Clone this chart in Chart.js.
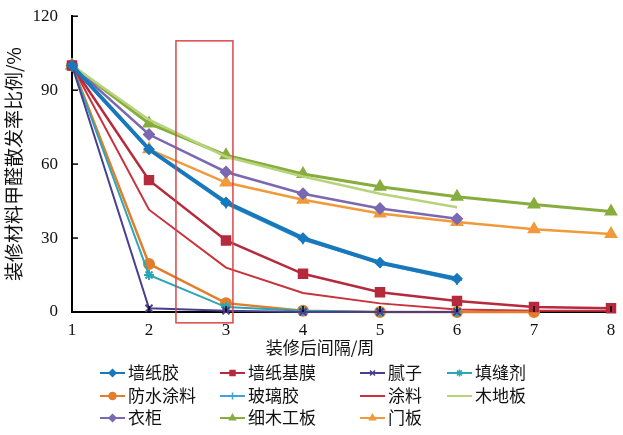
<!DOCTYPE html>
<html>
<head>
<meta charset="utf-8">
<script src="https://cdn.jsdelivr.net/npm/chart.js@4.4.1/dist/chart.umd.min.js"></script>
<style>
  html, body { margin: 0; padding: 0; background: #fff; }
</style>
</head>
<body>
<canvas id="chart" width="623" height="435"></canvas>
<script>
// weeks after decoration
const weeks = [1, 2, 3, 4, 5, 6, 7, 8];
const yTicks = [0, 30, 60, 90, 120];

const seriesNames = ['墙纸胶', '墙纸基膜', '腻子', '填缝剂', '防水涂料', '玻璃胶', '涂料', '木地板', '衣柜', '细木工板', '门板'];

// formaldehyde emission ratio, %
const wallpaperGlue = [100, 66, 44.5, 30, 20, 13.5];
const wallpaperPrimer = [100, 53.5, 29, 15.5, 8, 4.5, 2, 1.5];
const putty = [100, 1.5, 0.5, 0, 0, 0];
const caulk = [100, 15, 2, 0.5, 0, 0];
const waterproofCoating = [100, 19.5, 3.6, 0.5, 0, 0, 0];
const glassGlue = [100, 66, 44, 29.5, 20, 13];
const paint = [100, 41.5, 18, 7.7, 3.5, 1, 0.5, 0.5];
const woodFloor = [100, 78, 63, 55, 48, 42.5];
const wardrobe = [100, 72, 56.8, 48, 42, 37.8];
const blockboard = [100, 76.5, 63.6, 56, 50.8, 46.8, 43.6, 40.8];
const doorPanel = [100, 66, 52.5, 45.5, 40, 36.5, 33.6, 31.6];

// highlighted range (red box)
const boxX = [2.35, 3.09];
const boxY = [-4.4, 110];

const allSeries = [wallpaperGlue, wallpaperPrimer, putty, caulk, waterproofCoating, glassGlue, paint, woodFloor, wardrobe, blockboard, doorPanel];
const colors = ['#1878bb', '#b52a3c', '#4a3f8e', '#2aa6b6', '#e27d2c', '#3fa2dc', '#c8323c', '#b7d47c', '#7a68b2', '#87ad3e', '#f19a3c'];
const pointStyles = ['rectRot', 'rect', 'crossRot', 'star', 'circle', 'cross', 'circle', 'circle', 'rectRot', 'triangle', 'triangle'];
const pointSizes = [4.5, 6, 5, 5, 5, 5, 0, 0, 5, 6, 6];
const lineWidths = [4, 2.5, 2, 2, 2.5, 3, 2, 2.5, 2.5, 3, 2.5];

const cjk = '"Noto Sans CJK SC", "Noto Sans", sans-serif';
const serif = '"Liberation Serif", "DejaVu Serif", serif';

const datasets = seriesNames.map((name, i) => ({
  label: name,
  data: allSeries[i].map((v, j) => ({ x: weeks[j], y: v })),
  borderColor: colors[i],
  backgroundColor: colors[i],
  borderWidth: lineWidths[i],
  pointStyle: pointStyles[i],
  pointRadius: pointSizes[i],
  pointBorderWidth: 2,
  pointBorderColor: colors[i],
  pointBackgroundColor: colors[i],
  tension: 0,
  clip: false
}));

// red box + inward ticks + legend + x title
const extras = {
  id: 'extras',
  afterDatasetsDraw(chart) {
    const ctx = chart.ctx;
    const xs = chart.scales.x, ys = chart.scales.y;
    ctx.save();
    ctx.strokeStyle = '#d9474a';
    ctx.lineWidth = 1.5;
    const x0 = xs.getPixelForValue(boxX[0]), x1 = xs.getPixelForValue(boxX[1]);
    const y0 = ys.getPixelForValue(boxY[1]), y1 = ys.getPixelForValue(boxY[0]);
    ctx.strokeRect(x0, y0, x1 - x0, y1 - y0);

    ctx.strokeStyle = '#000';
    ctx.lineWidth = 1.5;
    const left = chart.chartArea.left, bottom = chart.chartArea.bottom;
    yTicks.forEach(t => {
      const y = ys.getPixelForValue(t);
      ctx.beginPath(); ctx.moveTo(left, y); ctx.lineTo(left + 6, y); ctx.stroke();
    });
    weeks.forEach(w => {
      const x = xs.getPixelForValue(w);
      ctx.beginPath(); ctx.moveTo(x, bottom); ctx.lineTo(x, bottom - 6); ctx.stroke();
    });
    ctx.restore();
  },
  afterDraw(chart) {
    const ctx = chart.ctx;
    ctx.save();
    ctx.fillStyle = '#111';
    ctx.font = '17px ' + cjk;
    ctx.textAlign = 'center';
    ctx.textBaseline = 'middle';
    ctx.fillText('装修后间隔/周', 320, 348);

    const colX = [100, 220, 360, 447];
    const rowY = [373, 396, 418];
    ctx.textAlign = 'left';
    chart.data.datasets.forEach((ds, i) => {
      const x = colX[i % 4], y = rowY[Math.floor(i / 4)];
      ctx.strokeStyle = ds.borderColor;
      ctx.lineWidth = 2;
      ctx.beginPath(); ctx.moveTo(x, y); ctx.lineTo(x + 25, y); ctx.stroke();
      if (ds.pointRadius > 0) {
        ctx.fillStyle = ds.borderColor;
        ctx.lineWidth = 1.5;
        Chart.helpers.drawPoint(ctx, { pointStyle: ds.pointStyle, radius: 3.5, rotation: 0, borderWidth: 1.5 }, x + 12.5, y);
      }
      ctx.fillStyle = '#111';
      ctx.fillText(ds.label, x + 28, y);
    });
    ctx.restore();
  }
};

new Chart(document.getElementById('chart'), {
  type: 'line',
  data: { datasets: datasets },
  options: {
    responsive: false,
    animation: false,
    devicePixelRatio: 1,
    layout: { padding: { top: 12, right: 12, left: 0, bottom: 0 } },
    plugins: {
      legend: { display: false },
      tooltip: { enabled: false }
    },
    scales: {
      x: {
        type: 'linear',
        min: 1,
        max: 8,
        ticks: { stepSize: 1, color: '#111', font: { family: serif, size: 17 }, padding: 0 },
        grid: { display: false },
        border: { display: true, color: '#000', width: 2 },
        afterFit(scale) { scale.height = 123; }
      },
      y: {
        min: 0,
        max: 120,
        ticks: { stepSize: 30, color: '#111', font: { family: serif, size: 17 }, padding: 6 },
        grid: { display: false },
        border: { display: true, color: '#000', width: 2 },
        title: {
          display: true,
          text: '装修材料甲醛散发率比例/%',
          color: '#111',
          font: { family: cjk, size: 19 },
          padding: { top: 2, bottom: 0 }
        },
        afterFit(scale) { scale.width = 72; }
      }
    }
  },
  plugins: [extras]
});
</script>
</body>
</html>
